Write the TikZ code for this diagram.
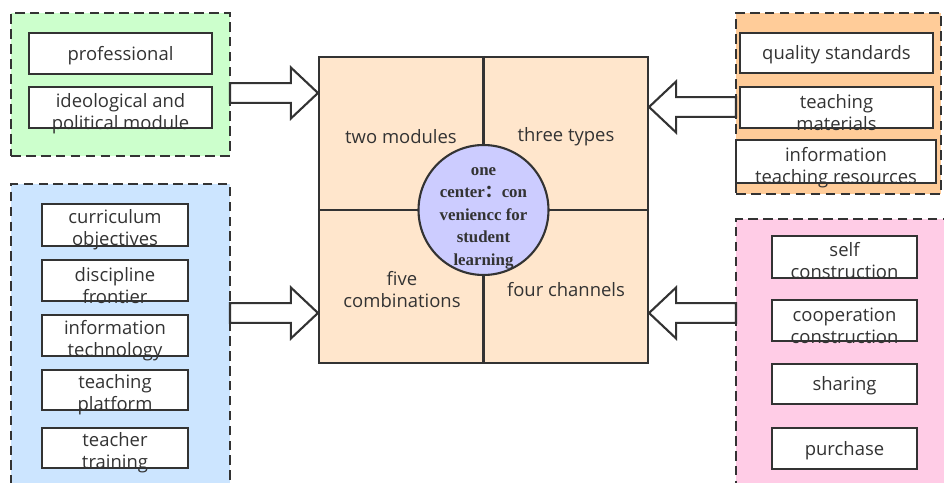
\documentclass[tikz,border=0pt]{standalone}
\usepackage{fontspec}
\setmainfont{Open Sans}
\newfontfamily\hubfont{Liberation Serif}
\newfontfamily\cjk{Noto Sans CJK SC}
\usetikzlibrary{positioning, fit, calc}
\definecolor{grpgreen}{HTML}{CCFFCC}
\definecolor{grpblue}{HTML}{CCE5FF}
\definecolor{grporange}{HTML}{FFCC99}
\definecolor{grppink}{HTML}{FFCCE6}
\definecolor{sqfill}{HTML}{FFE6CC}
\definecolor{hubfill}{HTML}{CCCCFF}
\definecolor{edge}{HTML}{333333}
\tikzset{
  group/.style={draw=edge, line width=1.2pt, dash pattern=on 5.5pt off 3pt, inner sep=0},
  item/.style={draw=edge, line width=1.2pt, fill=white, inner sep=0},
  itemtext/.style={text=edge, align=center, inner sep=0, font=\fontsize{10.5}{12.5}\selectfont},
  square/.style={draw=edge, line width=1.2pt, fill=sqfill, inner sep=0},
  divider/.style={draw=edge, line width=1.2pt},
  hub/.style={circle, draw=edge, line width=1.2pt, fill=hubfill, minimum size=2.6cm, inner sep=0},
  hubtext/.style={text=edge, align=center, inner sep=0, font=\hubfont\bfseries\fontsize{9.6}{12.8}\selectfont},
  fatarrow/.style={draw=edge, line width=1.2pt, fill=white, line join=miter}
}
\newcommand\fatarrow[2]{%
  \draw[fatarrow] let \p1=(#1), \p2=(#2), \n1={ifthenelse(\x2>\x1,1,-1)} in
    (\x1,{\y1+5.6pt}) -- ({\x2-\n1*15.4pt},{\y1+5.6pt}) -- ({\x2-\n1*15.4pt},{\y1+14.5pt})
    -- (\x2,\y1) -- ({\x2-\n1*15.4pt},{\y1-14.5pt}) -- ({\x2-\n1*15.4pt},{\y1-5.6pt})
    -- (\x1,{\y1-5.6pt}) -- cycle;}

\begin{document}
\begin{tikzpicture}[x=0.02cm, y=-0.02cm]
\useasboundingbox (0,0) rectangle (944,483);
\clip (0,0) rectangle (944,483);

% groups
\node[group, fill=grpgreen, fit={(11,13) (230,156)}] (grn) {};
\node[group, fill=grpblue, fit={(11,184) (230,500)}] (blu) {};
\node[group, fill=grporange, fit={(736,13) (941,194)}] (org) {};
\node[group, fill=grppink, fit={(736,219) (950,500)}] (pnk) {};

% green items
\node[item, fit={(29,33) (212,74)}] (prof) {};
\node[itemtext] (proft) at ($(prof.center)+(0,2)$) {professional};
\node[item, fit={(29,87) (212,128)}] (ideo) {};
\node[itemtext] (ideot) at ($(ideo.center)+(0,6)$) {ideological and\\political module};

% blue items
\node[item, fit={(42,204) (188,246)}] (curr) {};
\node[itemtext] (currt) at ($(curr.center)+(0,5)$) {curriculum\\objectives};
\node[item, fit={(42,260) (188,301)}] (disc) {};
\node[itemtext] (disct) at ($(disc.center)+(0,5)$) {discipline\\frontier};
\node[item, fit={(42,315) (188,356)}] (itec) {};
\node[itemtext] (itect) at ($(itec.center)+(0,5)$) {information\\technology};
\node[item, fit={(42,370) (188,410)}] (plat) {};
\node[itemtext] (platt) at ($(plat.center)+(0,5)$) {teaching\\platform};
\node[item, fit={(42,428) (188,468)}] (trai) {};
\node[itemtext] (trait) at ($(trai.center)+(0,5)$) {teacher\\training};

% orange items
\node[item, fit={(740,33) (933,73)}] (qual) {};
\node[itemtext] (qualt) at ($(qual.center)+(0,2)$) {quality standards};
\node[item, fit={(740,87) (933,128)}] (mate) {};
\node[itemtext] (matet) at ($(mate.center)+(0,5)$) {teaching\\materials};
\node[item, fit={(736,140) (936,183)}] (reso) {};
\node[itemtext] (resot) at ($(reso.center)+(0,6)$) {information\\teaching resources};

% pink items
\node[item, fit={(772,236) (917,278)}] (self) {};
\node[itemtext] (selft) at ($(self.center)+(0,4)$) {self\\construction};
\node[item, fit={(772,300) (917,341)}] (coop) {};
\node[itemtext] (coopt) at ($(coop.center)+(0,5)$) {cooperation\\construction};
\node[item, fit={(772,364) (917,404)}] (shar) {};
\node[itemtext] (shart) at ($(shar.center)+(0,2)$) {sharing};
\node[item, fit={(772,428) (917,469)}] (purc) {};
\node[itemtext] (purct) at ($(purc.center)+(0,2)$) {purchase};

% centre square
\node[square, fit={(319,57) (648,363)}] (sq) {};
\draw[divider] (sq.north) -- (sq.south);
\draw[divider] (sq.west) -- (sq.east);
\node[itemtext] (two) at (401,137) {two modules};
\node[itemtext] (three) at (566,137) {three types};
\node[itemtext] (five) at (402,290) {five\\combinations};
\node[itemtext] (four) at (566,290) {four channels};
\node[hub] (hub) at (sq.center) {};
\node[hubtext] (hubt) at ($(hub.center)+(0,8)$) {one\\center{\cjk ：}con\\veniencc for\\student\\learning};

% block arrows
\coordinate (ga) at (230,93);
\coordinate (ba) at (230,313);
\coordinate (oa) at (736,107);
\coordinate (pa) at (736,313);
\fatarrow{ga}{sq.west |- ga}
\fatarrow{ba}{sq.west |- ba}
\fatarrow{oa}{sq.east |- oa}
\fatarrow{pa}{sq.east |- pa}

\end{tikzpicture}
\end{document}
